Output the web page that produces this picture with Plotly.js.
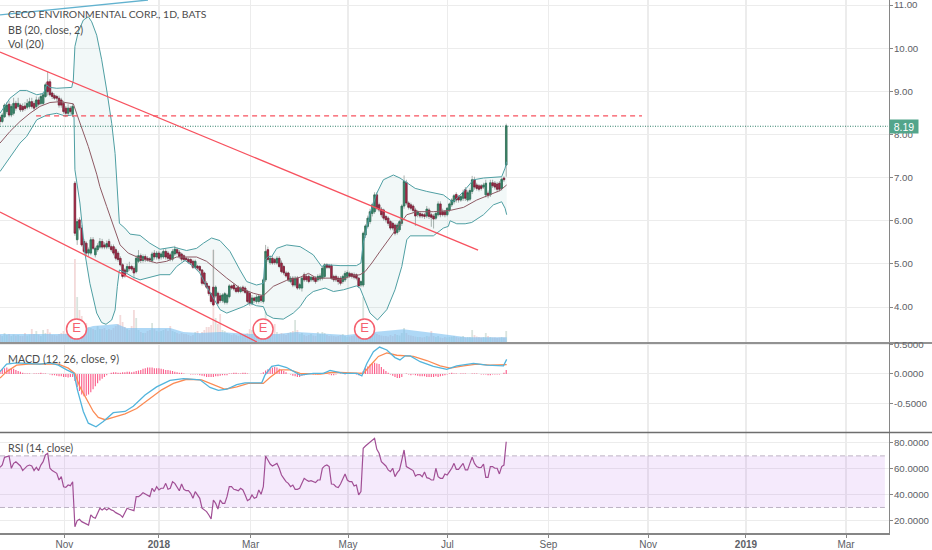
<!DOCTYPE html>
<html><head><meta charset="utf-8">
<script src="https://cdn.plot.ly/plotly-3.0.1.min.js"></script>
<style>html,body{margin:0;padding:0;background:#fff}</style></head>
<body><div id="chart" style="width:932px;height:550px"></div>
<script>
const tickPos=[28.4,70,110.4,153.3,197.1,241.6,285.5,328.6,372.7];
const tickText=['Nov','<b>2018</b>','Mar','May','Jul','Sep','Nov','<b>2019</b>','Mar'];
const priceTicks=[4,5,6,7,8,9,10,11];
const macdTicks=[-0.5,0,0.5];
const rsiTicks=[20,40,60,80];

const opens=[8.40,8.30,8.41,8.53,8.70,8.45,8.49,8.72,8.65,8.68,
8.65,8.66,8.63,8.65,8.76,8.72,8.65,8.80,8.72,8.72,
8.88,9.22,9.22,8.96,8.90,8.88,8.84,8.80,8.72,8.61,
8.49,8.61,8.47,6.87,5.56,6.02,5.83,5.52,5.48,5.25,
5.25,5.56,5.21,5.33,5.39,5.52,5.44,5.39,5.52,5.40,
5.40,5.33,5.25,5.13,4.98,4.86,4.82,4.94,4.94,4.90,
4.82,5.06,5.19,5.08,5.17,5.13,5.12,5.08,5.25,5.16,
5.25,5.16,5.16,5.29,5.25,5.21,5.11,5.23,5.33,5.27,
5.23,5.19,5.13,5.11,5.10,5.06,4.92,4.95,4.94,4.86,
4.79,4.55,4.48,4.31,4.46,4.26,4.32,4.26,4.15,4.11,
4.11,4.24,4.49,4.51,4.44,4.46,4.36,4.46,4.44,4.36,
4.32,4.08,4.21,4.13,4.13,4.25,4.13,4.63,5.33,5.03,
5.13,5.10,5.02,5.13,5.02,4.94,4.79,4.79,4.59,4.67,
4.51,4.67,4.44,4.44,4.75,4.71,4.71,4.63,4.69,4.67,
4.63,4.65,4.67,4.71,4.98,4.96,4.96,4.71,4.71,4.67,
4.67,4.59,4.63,4.71,4.78,4.77,4.75,4.75,4.67,4.51,
4.51,5.67,5.87,5.98,6.17,6.21,6.60,6.37,6.27,6.25,
6.10,6.06,5.98,5.94,5.90,5.73,5.79,5.94,6.34,6.89,
6.41,6.37,6.34,6.25,6.14,6.17,6.15,6.14,6.11,6.25,
6.14,6.11,6.06,6.14,6.39,6.21,6.21,6.14,6.25,6.37,
6.44,6.61,6.56,6.48,6.52,6.72,6.48,6.50,6.68,6.95,
6.83,6.81,6.81,6.78,6.60,6.64,6.60,6.88,6.87,6.85,
6.87,6.75,6.99,7.29];
const closes=[8.30,8.45,8.68,8.68,8.45,8.65,8.72,8.61,8.72,8.57,
8.57,8.60,8.72,8.76,8.65,8.61,8.80,8.70,8.88,8.92,
9.15,8.99,8.92,8.88,8.84,8.84,8.68,8.68,8.53,8.49,
8.61,8.53,8.65,5.71,5.98,5.83,5.44,5.29,5.25,5.33,
5.56,5.36,5.36,5.42,5.52,5.39,5.39,5.47,5.40,5.33,
5.25,5.13,5.10,4.98,4.71,4.72,4.94,4.89,4.88,4.79,
5.13,5.19,5.08,5.17,5.10,5.10,5.09,5.23,5.16,5.25,
5.13,5.23,5.29,5.16,5.13,5.11,5.29,5.34,5.25,5.17,
5.11,5.10,5.10,5.05,5.02,4.92,5.06,4.90,4.85,4.55,
4.54,4.46,4.31,4.13,4.05,4.46,4.09,4.15,4.28,4.31,
4.28,4.49,4.44,4.42,4.36,4.36,4.44,4.38,4.34,4.13,
4.08,4.21,4.15,4.23,4.25,4.15,4.63,5.29,5.10,5.13,
5.02,5.03,5.13,4.94,4.82,4.79,4.72,4.63,4.67,4.51,
4.67,4.44,4.52,4.67,4.63,4.63,4.59,4.69,4.63,4.59,
4.71,4.72,4.90,4.98,4.92,4.92,4.67,4.63,4.63,4.59,
4.55,4.71,4.78,4.80,4.72,4.71,4.69,4.67,4.49,4.59,
5.71,5.88,6.06,6.21,6.37,6.60,6.29,6.25,6.14,6.06,
6.02,5.94,5.83,5.83,5.71,5.90,5.98,6.34,6.91,6.41,
6.31,6.29,6.24,6.11,6.21,6.11,6.11,6.10,6.27,6.10,
6.08,6.04,6.17,6.39,6.14,6.14,6.14,6.29,6.39,6.48,
6.58,6.48,6.48,6.56,6.65,6.52,6.65,6.70,6.95,6.78,
6.75,6.73,6.75,6.83,6.87,6.58,6.88,6.81,6.78,6.73,
6.73,6.96,6.95,8.20];
const highs=[8.45,8.50,8.72,8.75,8.78,8.70,8.85,8.78,8.85,8.72,
8.72,8.75,8.82,8.85,8.85,8.78,8.88,8.86,8.95,8.98,
9.20,9.46,9.28,9.00,8.95,8.92,8.90,8.85,8.78,8.66,
8.70,8.66,8.72,6.92,6.05,6.08,5.90,5.58,5.52,5.38,
5.62,5.62,5.40,5.48,5.60,5.58,5.50,5.54,5.58,5.45,
5.45,5.38,5.30,5.18,5.02,4.90,5.00,5.05,4.98,4.95,
5.20,5.32,5.24,5.22,5.22,5.18,5.16,5.28,5.32,5.30,
5.30,5.28,5.34,5.36,5.30,5.26,5.34,5.42,5.38,5.32,
5.26,5.22,5.16,5.14,5.13,5.10,5.10,4.98,4.97,4.88,
4.82,4.60,4.50,4.34,5.33,4.50,4.36,4.32,4.32,4.35,
4.32,4.53,4.52,4.55,4.48,4.50,4.48,4.50,4.48,4.40,
4.36,4.28,4.24,4.28,4.30,4.30,4.68,5.44,5.40,5.20,
5.20,5.14,5.18,5.18,5.08,4.98,4.84,4.82,4.72,4.72,
4.72,4.72,4.56,4.72,4.80,4.75,4.76,4.72,4.72,4.72,
4.76,4.78,4.94,5.02,5.02,5.00,5.00,4.75,4.75,4.72,
4.72,4.75,4.84,4.85,4.82,4.80,4.80,4.78,4.70,4.62,
5.75,5.92,6.12,6.28,6.42,6.66,6.66,6.42,6.32,6.28,
6.14,6.10,6.02,5.98,5.94,5.95,6.02,6.38,7.05,6.95,
6.45,6.42,6.38,6.30,6.25,6.22,6.18,6.18,6.34,6.30,
6.18,6.16,6.21,6.45,6.45,6.28,6.25,6.32,6.42,6.52,
6.62,6.66,6.60,6.60,6.72,6.78,6.70,6.75,7.04,7.02,
6.88,6.85,6.85,6.88,6.95,6.70,6.95,6.95,6.92,6.90,
6.92,7.00,7.03,8.25];
const lows=[8.22,8.26,8.38,8.48,8.40,8.40,8.44,8.55,8.60,8.52,
8.52,8.55,8.58,8.60,8.60,8.55,8.60,8.65,8.68,8.68,
8.85,8.90,8.88,8.82,8.80,8.78,8.62,8.62,8.48,8.40,
8.44,8.48,8.40,5.65,5.44,5.78,5.40,5.25,5.18,5.18,
5.20,5.32,5.15,5.28,5.35,5.34,5.34,5.34,5.35,5.28,
5.20,5.08,5.05,4.94,4.66,4.68,4.78,4.84,4.84,4.66,
4.78,5.02,5.02,5.03,5.04,5.05,5.04,5.03,5.10,5.10,
5.08,5.10,5.12,5.10,5.08,5.06,5.06,5.18,5.20,5.12,
5.06,5.05,5.06,5.00,4.98,4.88,4.88,4.86,4.80,4.50,
4.50,4.42,4.26,4.08,4.02,4.22,4.05,4.10,4.10,4.06,
4.06,4.20,4.40,4.38,4.32,4.32,4.32,4.34,4.30,4.08,
4.03,4.04,4.10,4.08,4.08,4.10,4.08,4.58,5.05,4.98,
4.98,4.98,4.98,4.90,4.78,4.74,4.68,4.58,4.55,4.46,
4.46,4.40,4.40,4.36,4.58,4.58,4.55,4.58,4.58,4.54,
4.58,4.60,4.62,4.66,4.88,4.88,4.63,4.58,4.58,4.52,
4.50,4.54,4.58,4.66,4.68,4.66,4.64,4.62,4.44,4.46,
4.46,5.60,5.82,5.92,6.10,6.16,6.24,6.20,6.08,6.00,
5.96,5.88,5.78,5.78,5.66,5.68,5.74,5.88,6.28,6.36,
6.26,6.24,6.18,5.88,6.08,6.06,6.06,6.04,6.06,6.04,
5.86,5.82,6.02,6.10,6.08,6.10,6.08,6.10,6.20,6.32,
6.38,6.42,6.42,6.44,6.46,6.46,6.44,6.46,6.62,6.72,
6.70,6.68,6.70,6.74,6.54,6.52,6.55,6.76,6.72,6.66,
6.68,6.70,6.90,7.02];
const volumes=[70,60,90,70,80,60,75,65,70,60,
60,90,65,75,130,80,110,75,60,120,
90,130,95,70,70,65,80,90,110,85,
100,90,130,830,450,320,260,200,190,150,
140,130,120,160,130,130,140,120,130,120,
140,160,180,270,200,150,130,120,160,320,
240,120,100,90,90,110,120,190,130,110,
100,110,120,130,110,160,110,100,90,80,
90,80,80,70,60,70,100,110,80,100,
120,150,150,170,920,240,180,280,120,110,
90,80,70,80,70,60,80,70,80,90,
130,120,100,80,70,110,120,300,180,130,
110,180,100,80,90,80,70,90,100,110,
220,120,80,90,70,60,70,80,65,60,
100,80,100,90,70,60,65,60,55,60,
70,80,60,50,55,60,65,90,110,100,
450,200,150,120,110,90,80,70,65,60,
60,55,70,60,80,70,65,90,140,90,
70,65,60,55,50,50,45,50,60,55,
110,60,50,60,45,40,50,45,50,55,
60,50,45,50,60,45,50,50,120,70,
55,50,45,50,90,60,50,45,45,40,
45,50,45,110];
const volMaX=[0,14.7,29,33,36.7,41,47,51.4,55.8,61.7,69,74.9,80.8,88,96.9,110,116,122,130.7,152.7,160,177.7,191,205.6,223.2];
const volMaY=[80,80,80,80,130,160,170,180,140,140,140,140,100,90,100,80,80,80,100,70,90,127,90,47,47];

const bbUpperX=[0,4.4,8.8,11.7,16.2,19.1,20.6,22,25,31.6,32.3,33,34.5,36.7,38.9,40.4,42.6,44.8,47,49.2,50.7,51.4,52.1,52.6,55,57.3,61.7,66,70.5,76.4,82.2,86.6,89.6,93.2,96.9,101.3,105.7,108.7,113,116,116.7,118.2,119.7,121.9,126.3,132.2,134.4,138,141.7,143.9,149.8,157,159,160,163,166,168.9,173.3,176.2,178.5,182.9,188,195.3,198.3,199.7,204.2,208.6,213,217.4,221,222.5,223.2];
const bbUpperY=[8.49,8.84,9.02,9.02,8.92,8.95,9.15,9.09,9.07,9.09,9.26,10.04,10.38,10.65,10.73,10.61,10.30,9.73,9.03,8.26,7.56,6.95,6.41,5.94,5.83,5.69,5.66,5.48,5.34,5.39,5.31,5.36,5.48,5.60,5.54,5.29,4.86,4.59,4.51,4.55,5.09,5.17,5.17,5.36,5.44,5.40,5.33,5.21,4.94,4.98,4.96,4.96,5.02,5.48,6.17,6.64,6.95,7.06,6.99,6.91,6.75,6.68,6.60,6.48,6.44,6.68,6.95,6.99,7.01,7.02,7.22,7.37];
const bbLowerX=[0,8.8,11.7,16.2,20.6,25,28.6,31.6,32.6,33,35.2,37.4,39.6,42.6,44.8,46.7,49.2,50.7,51.7,52.6,55.8,58.7,61.7,66,70.5,74.9,77.8,81.5,85.2,88,91,94,96.9,99.9,102.8,107.2,110.1,113,116,117.5,120.4,124.8,129.2,132.2,135.1,138,143.2,146.9,151.3,157,158.6,160,163,166.3,170.4,174,177,179.2,180.7,190.9,195.3,197.5,198.3,201.2,204.9,207.8,213,217.4,221,222.5,223.2];
const bbLowerY=[7.14,7.80,7.95,8.34,8.45,8.49,8.43,8.45,8.41,7.18,6.41,5.25,4.55,3.86,3.64,3.60,3.70,3.93,4.48,4.86,4.78,4.69,4.63,4.69,4.75,4.75,4.94,5.08,4.94,4.79,4.48,4.21,3.94,3.86,3.92,4.01,4.09,4.03,4.01,3.82,3.74,3.72,3.86,4.01,4.24,4.36,4.44,4.36,4.40,4.49,4.44,4.24,3.86,3.70,3.94,4.40,4.94,5.56,5.65,5.65,5.83,5.87,6.00,5.93,5.93,5.96,6.14,6.37,6.44,6.29,6.14];
const bbMidX=[0,4.4,8.8,13.2,17.6,22,26.4,32.3,34,36,38.9,42.6,44,47,49.9,52.9,56.5,61.7,69,73.4,77.8,86.6,91,95.4,99.9,105.7,111.6,116,120.4,126.3,132.2,135.9,139.5,145.4,149.8,154.2,158.6,160.8,163.8,167.4,171.8,176.2,179.2,183.6,190.9,198.3,204.2,210,214.4,220.3,223.2];
const bbMidY=[7.80,8.07,8.30,8.49,8.65,8.74,8.76,8.71,8.45,8.14,7.72,7.08,6.79,6.33,5.87,5.44,5.25,5.13,5.02,5.06,5.16,5.16,5.06,4.86,4.67,4.44,4.32,4.26,4.48,4.62,4.69,4.78,4.67,4.67,4.63,4.71,4.75,4.82,5.02,5.29,5.60,5.90,6.14,6.21,6.21,6.24,6.31,6.48,6.58,6.70,6.83];

const trendUpperX=[0,210.6];   const trendUpperY=[9.91,5.32];
const trendLowerX=[0,113.2];   const trendLowerY=[6.20,3.19];
const trendBlueX=[0,65.2];     const trendBlueY=[10.77,11.116];
const resistX=[15.9,282.8];    const resistY=[8.43,8.43];
const lastX=[0,391.2];         const lastY=[8.19,8.19];
const earningsX=[33.7,115.9,160.6];
const earningsY=[3.49,3.49,3.49];
const earningsText=['E','E','E'];

const macdX=[0,2.9,7.3,11.7,17.6,22,25.7,29.4,32.6,34.1,36.7,38.9,42.3,45.5,49.9,55.1,58.7,63.9,69,74.9,80.8,88.1,92.5,96.2,99.9,104.3,107.9,115.3,116.7,119.7,122.6,126.3,132.2,138,142.5,145.4,148.4,151.3,157.2,159.4,161.6,164.5,167.2,170.4,174,176.2,178.5,180.7,185.1,190.9,196.8,201.2,208.6,214.4,221.8,223.2];
const macdY=[0.04,0.17,0.19,0.18,0.17,0.19,0.15,0.07,0.01,-0.27,-0.64,-0.84,-0.90,-0.81,-0.66,-0.64,-0.55,-0.36,-0.22,-0.11,-0.08,-0.10,-0.23,-0.28,-0.26,-0.18,-0.15,-0.15,-0.02,0.13,0.15,0.11,-0.02,0.01,0.01,0.06,0.03,0.01,0.01,-0.03,0.18,0.38,0.46,0.41,0.28,0.24,0.31,0.31,0.21,0.13,0.08,0.14,0.18,0.15,0.14,0.25];
const signalX=[0,2.9,7.3,12.5,19.1,25.7,30.1,33,35.2,38.2,41.1,43.3,46.3,49.9,55.1,60.2,66.1,71.2,76.4,82.2,88.8,94,99.1,104.3,109.4,116,118.9,123.3,127.8,132.2,141,146.9,152.8,160.1,163,166.7,170.4,174.8,182.1,188,193.9,198.3,204.2,210,215.9,221,223.2];
const signalY=[-0.07,0.04,0.15,0.17,0.17,0.17,0.10,0.01,-0.22,-0.44,-0.64,-0.74,-0.78,-0.74,-0.68,-0.59,-0.42,-0.27,-0.16,-0.09,-0.10,-0.18,-0.26,-0.22,-0.16,-0.16,-0.06,0.07,0.07,0.01,0,0.03,0.02,0.01,0.14,0.30,0.36,0.32,0.30,0.23,0.14,0.10,0.14,0.17,0.15,0.15,0.16];
const macdHist=[.06,.09,.10,.11,.09,.10,.09,.07,.05,.04,
.02,.01,.01,.01,0,.01,.01,.01,.02,.01,
.01,0,-.01,-.02,-.02,-.03,-.04,-.04,-.05,-.05,
-.06,-.05,-.05,-.12,-.22,-.29,-.35,-.38,-.37,-.35,
-.31,-.26,-.21,-.16,-.11,-.08,-.05,-.02,0,.02,
.03,.03,.02,.02,.03,.03,.04,.04,.03,.04,
.05,.06,.07,.09,.10,.11,.11,.11,.10,.10,
.10,.09,.08,.07,.07,.06,.05,.04,.03,.02,
.02,.01,0,0,-.01,-.01,-.01,-.01,-.02,-.03,
-.04,-.05,-.05,-.05,-.05,-.04,-.04,-.03,-.02,-.02,
-.02,.01,.01,.02,.02,.01,.01,.02,.02,.01,
0,0,0,0,0,.01,.03,.06,.08,.09,
.11,.12,.11,.09,.07,.05,.03,0,-.01,-.03,
-.04,-.05,-.05,-.03,-.02,-.01,.01,.01,-.01,-.01,
-.01,.01,.01,.02,.02,-.01,-.02,-.02,-.01,0,
.01,0,-.01,.01,.01,0,0,-.01,-.02,.02,
.05,.10,.13,.16,.18,.19,.18,.17,.12,.08,
.05,.02,-.01,-.03,-.05,-.07,-.07,-.05,0,.01,
-.01,-.02,-.01,-.02,-.03,-.04,-.04,-.04,-.05,-.05,
-.05,-.05,-.04,-.05,-.04,-.03,-.02,-.01,.01,.02,
.01,.01,0,.01,.01,.01,0,0,.01,.01,
.01,0,-.01,-.01,-.01,-.02,-.02,-.01,-.01,-.01,
-.01,0,.02,.07];

const rsiValues=[61.1,62.9,68.9,69.4,69.9,60.4,64.2,65.5,63.7,62.2,58.6,60.4,62.2,62.9,62.2,58.6,61.1,58.6,62.9,65.5,70.7,72,60.4,58.6,57.8,56.5,51.3,53.9,46.1,45.6,47.4,46.9,50,
15.1,19.8,20.8,19,18.2,17.2,16.4,24.2,22.4,21.6,26,29.4,28.1,29.4,28.1,29.4,28.1,27.5,26,25,24.2,22.4,26,29.4,28.6,28.1,27.5,38.4,38.4,39.7,41.5,40.5,39.7,38.4,44.9,42.3,46.1,43.6,44.9,44.9,48.7,44.1,44.9,50,48.7,46.1,43,48.2,44.1,43,43,41,37.1,42.3,39.7,37.1,29.4,28.1,26.8,24.2,21.1,35.8,33.2,28.8,35.8,33.2,33.2,38.4,46.1,46.1,44.1,43.6,43,44.9,43.6,39.7,35.3,36.3,39.7,37.1,37.9,43.6,40.2,46.1,69.9,66.8,63.7,62.2,62.9,64.2,60.4,55.2,52.6,50,48.7,46.1,47.4,44.1,44.1,44.9,
48.7,52.6,51.3,50.3,50.8,50.3,49.3,51.3,51.3,60.4,62.2,62.9,61.7,48.2,48,46.1,45.4,48.2,52.6,56,51.3,50,50,46.7,47.4,39.7,42.3,75.9,77.7,79.2,80.3,81.6,83.6,75.1,72,65.5,64.2,62.2,59.1,57.8,60.4,53.9,57,59.1,66.8,74.6,61.7,60.9,59.6,58.6,54.4,55.5,55.5,53.9,57.5,53.1,52.6,51.3,51.3,60.4,53.9,52.6,52.6,56,55.2,57.8,60.4,64.2,59.6,59.6,61.7,64.2,59.1,59.1,64.2,68.9,64.2,61.7,60.9,61.1,63.7,53.4,53.4,61.7,61.7,60.4,60.4,56,61.7,62.9,81];
const rsiBandX=[0,389.8];
const rsiUpper=[70,70];
const rsiLower=[30,30];

const UP='#3f8a6c',UPL='#2a6b52',DN='#b42345',DNL='#7c1a32',GRID='#ececec',AX='#868686',TXT='#5d6066';
const idx=closes.map((_,i)=>i);
const bodyHi=closes.map((c,i)=>Math.max(c,opens[i]));
const bodyLo=closes.map((c,i)=>Math.min(c,opens[i]));
const volColors=closes.map((c,i)=>c>=opens[i]?'#d9e4de':'#f3dada');

const none={hoverinfo:'skip',showlegend:false};
const traces=[
 {type:'bar',x:idx,y:volumes,marker:{color:volColors,line:{width:0}},width:0.8,xaxis:'x',yaxis:'y',...none},
 {type:'scatter',mode:'lines',x:volMaX,y:volMaY,fill:'tozeroy',fillcolor:'rgba(120,190,240,0.6)',line:{width:0,color:'#9fd0f2'},xaxis:'x',yaxis:'y',...none},
 {type:'scatter',mode:'lines',x:bbUpperX,y:bbUpperY,line:{color:'#4f9fa3',width:1},xaxis:'x',yaxis:'y2',...none},
 {type:'scatter',mode:'lines',x:bbLowerX,y:bbLowerY,fill:'tonexty',fillcolor:'rgba(38,142,142,0.06)',line:{color:'#4f9fa3',width:1},xaxis:'x',yaxis:'y2',...none},
 {type:'scatter',mode:'lines',x:bbMidX,y:bbMidY,line:{color:'#8e5a64',width:1},xaxis:'x',yaxis:'y2',...none},
 {type:'scatter',mode:'lines',x:lastX,y:lastY,line:{color:'#2f7f68',width:1,dash:'1px,1.5px'},xaxis:'x',yaxis:'y2',...none},
 {type:'candlestick',x:idx,open:bodyLo,close:bodyHi,high:highs,low:lows,
  increasing:{line:{color:'#adb3b0',width:1},fillcolor:'rgba(0,0,0,0)'},decreasing:{line:{color:'#adb3b0',width:1},fillcolor:'rgba(0,0,0,0)'},whiskerwidth:0,xaxis:'x',yaxis:'y2',...none},
 {type:'candlestick',x:idx,open:opens,close:closes,high:bodyHi,low:bodyLo,
  increasing:{line:{color:UPL,width:0.7},fillcolor:UP},decreasing:{line:{color:DNL,width:0.7},fillcolor:DN},whiskerwidth:0,xaxis:'x',yaxis:'y2',...none},
 {type:'scatter',mode:'lines',x:trendUpperX,y:trendUpperY,line:{color:'#f7525f',width:1.3},xaxis:'x',yaxis:'y2',...none},
 {type:'scatter',mode:'lines',x:trendLowerX,y:trendLowerY,line:{color:'#f7525f',width:1.3},xaxis:'x',yaxis:'y2',...none},
 {type:'scatter',mode:'lines',x:trendBlueX,y:trendBlueY,line:{color:'#62b2cf',width:1.3},xaxis:'x',yaxis:'y2',...none},
 {type:'scatter',mode:'lines',x:resistX,y:resistY,line:{color:'#f7525f',width:1.4,dash:'5px,4px'},xaxis:'x',yaxis:'y2',...none},
 {type:'scatter',mode:'markers+text',x:earningsX,y:earningsY,text:earningsText,textposition:'middle center',
  textfont:{family:'Liberation Sans, Arial',size:13,color:'#f5616f'},
  marker:{size:20,color:'#ffffff',line:{color:'#f5616f',width:1.5}},xaxis:'x',yaxis:'y2',...none},

 {type:'bar',x:idx,y:macdHist,marker:{color:'#fb5f8c',line:{width:0}},width:0.5,xaxis:'x',yaxis:'y3',...none},
 {type:'scatter',mode:'lines',x:signalX,y:signalY,line:{color:'#fb8b54',width:1.3},xaxis:'x',yaxis:'y3',...none},
 {type:'scatter',mode:'lines',x:macdX,y:macdY,line:{color:'#52b4dc',width:1.3},xaxis:'x',yaxis:'y3',...none},

 {type:'scatter',mode:'lines',x:rsiBandX,y:rsiUpper,line:{color:'#bdb2c4',width:1,dash:'5px,3px'},xaxis:'x',yaxis:'y4',...none},
 {type:'scatter',mode:'lines',x:rsiBandX,y:rsiLower,fill:'tonexty',fillcolor:'rgba(153,51,230,0.10)',line:{color:'#bdb2c4',width:1,dash:'5px,3px'},xaxis:'x',yaxis:'y4',...none},
 {type:'scatter',mode:'lines',x:idx,y:rsiValues,line:{color:'#a14f95',width:1.2},xaxis:'x',yaxis:'y4',...none}
];

const yBase={side:'right',anchor:'x',showgrid:true,gridcolor:GRID,gridwidth:1,zeroline:false,showline:true,linecolor:AX,linewidth:1.5,
 ticks:'outside',ticklen:3,tickcolor:AX,tickwidth:1,ticklabeloverflow:'allow',ticklabelstandoff:-1,tickfont:{family:'Liberation Sans, Arial',size:9.7,color:TXT},tickmode:'array'};
const lab=(t,y,s)=>({text:t,xref:'paper',yref:'paper',x:5.5/932,y:1-y/550,xanchor:'left',yanchor:'middle',showarrow:false,font:{family:'Lato',size:s,color:'#4c4c4c'}});
const layout={width:932,height:550,autosize:false,margin:{l:0,r:0,t:0,b:0,pad:0},paper_bgcolor:'#fff',plot_bgcolor:'#fff',showlegend:false,barmode:'overlay',boxgap:0.05,
 xaxis:{domain:[0,888.5/932],range:[0,391.4],anchor:'y4',rangeslider:{visible:false},tickmode:'array',tickvals:tickPos,ticktext:tickText,showgrid:true,gridcolor:GRID,gridwidth:1.5,zeroline:false,
  showline:true,linecolor:AX,linewidth:1.5,ticks:'outside',ticklen:3,tickcolor:AX,ticklabeloverflow:'allow',ticklabelstandoff:-2,tickfont:{family:'Liberation Sans, Arial',size:10,color:TXT}},
 yaxis:{domain:[1-342/550,1],range:[0,3420],visible:false,fixedrange:true},
 yaxis2:{...yBase,overlaying:'y',range:[3.19,11.116],tickvals:priceTicks,ticktext:priceTicks.map(v=>v.toFixed(2))},
 yaxis3:{...yBase,domain:[1-432/550,1-343/550],range:[-0.99,0.529],tickvals:macdTicks,ticktext:macdTicks.map(v=>v.toFixed(4))},
 yaxis4:{...yBase,domain:[1-533/550,1-433/550],range:[10.2,87.75],tickvals:rsiTicks,ticktext:rsiTicks.map(v=>v.toFixed(4))},
 shapes:[
  {type:'line',xref:'paper',yref:'paper',x0:0,x1:1,y0:1-343/550,y1:1-343/550,line:{color:'#6e6e6e',width:1.5}},
  {type:'line',xref:'paper',yref:'paper',x0:0,x1:1,y0:1-432.5/550,y1:1-432.5/550,line:{color:'#6e6e6e',width:1.5}}
 ],
 annotations:[
  lab('CECO ENVIRONMENTAL CORP., 1D, BATS',14,10.4),lab('BB (20, close, 2)',29,10.7),lab('Vol (20)',44,10.7),
  lab('MACD (12, 26, close, 9)',358,10.7),lab('RSI (14, close)',447,10.7),
  {text:'8.19',xref:'paper',yref:'y2',x:889/932,y:8.19,xanchor:'left',yanchor:'middle',showarrow:false,bgcolor:'#53a58b',borderpad:1,width:26,height:11,
   font:{family:'Liberation Sans, Arial',size:10.5,color:'#fff'}}
 ]
};
Plotly.newPlot('chart',traces,layout,{staticPlot:true,displayModeBar:false});
</script></body></html>
